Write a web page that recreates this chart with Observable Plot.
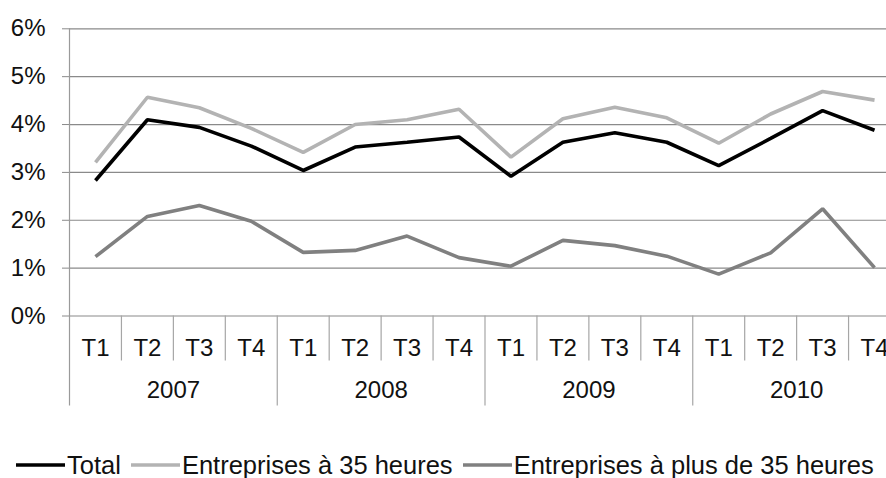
<!DOCTYPE html>
<html>
<head>
<meta charset="utf-8">
<script src="https://cdn.jsdelivr.net/npm/d3@7"></script>
<script src="https://cdn.jsdelivr.net/npm/@observablehq/plot@0.6"></script>
<style>
  html, body { margin: 0; padding: 0; background: #fff; overflow: hidden; width: 886px; height: 478px; }
  body { font-family: "Liberation Sans", Arial, sans-serif; }
  #chart svg { display: block; }
  #legend { position: absolute; top: 450px; left: 16px; display: flex; height: 30px; line-height: 30px; font-size: 25.5px; color: #111; white-space: nowrap; }
  .item { display: inline-flex; align-items: center; margin-right: 10px; }
  .item span { margin-left: 2px; }
</style>
</head>
<body>
<div id="chart"></div>
<div id="legend"></div>
<script>
// ---- data ----
const years = ["2007", "2008", "2009", "2010"];
const quarters = ["T1", "T2", "T3", "T4"];
const seriesNames = ["Total", "Entreprises à 35 heures", "Entreprises à plus de 35 heures"];
const total  = [2.83, 4.10, 3.94, 3.55, 3.04, 3.53, 3.63, 3.74, 2.92, 3.63, 3.83, 3.63, 3.14, 3.71, 4.29, 3.88];
const h35    = [3.21, 4.57, 4.35, 3.92, 3.42, 4.00, 4.10, 4.32, 3.32, 4.12, 4.36, 4.14, 3.61, 4.22, 4.69, 4.51];
const plus35 = [1.24, 2.08, 2.31, 1.98, 1.33, 1.37, 1.67, 1.22, 1.04, 1.58, 1.47, 1.25, 0.875, 1.32, 2.24, 1.01];
const yTicks = [0, 1, 2, 3, 4, 5, 6];
const seriesColors = ["#000000", "#b3b3b3", "#808080"];

// ---- derived tables ----
const periods = years.flatMap((y, yi) => quarters.map((q, qi) => ({i: yi * 4 + qi, year: y, q})));
const values = [total, h35, plus35];
const rows = seriesNames.flatMap((s, si) => values[si].map((v, i) => ({series: s, i, v})));
const yearLabels = years.map((y, yi) => ({year: y, i: yi * 4 + 1.5}));
const quarterSeps = periods.filter(p => p.i % 4 !== 3).map(p => p.i + 0.5);
const yearSeps = years.map((y, yi) => yi * 4 + 3.5);

const chart = Plot.plot({
  width: 886,
  height: 440,
  marginLeft: 69,
  marginRight: 0,
  marginTop: 28,
  marginBottom: 0,
  style: {fontFamily: "'Liberation Sans', Arial, sans-serif", background: "#fff", overflow: "visible"},
  x: {domain: [-0.5, periods.length - 0.5], range: [69, 900], axis: null},
  y: {domain: [0, 6], range: [315.5, 28.3], axis: null},
  color: {domain: seriesNames, range: seriesColors},
  marks: [
    Plot.ruleY(yTicks, {stroke: "#8a8a8a", strokeWidth: 1.2}),
    Plot.axisY({ticks: yTicks, tickFormat: d => `${d}%`, tickSize: 7, tickPadding: 17, fontSize: 24, stroke: "#8a8a8a", fill: "#111", label: null}),
    // y axis line, extended down to the bottom of the category rows
    Plot.ruleX([-0.5], {y1: 6, y2: 0, insetBottom: -90, stroke: "#9a9a9a", strokeWidth: 1.2}),
    Plot.ruleX(quarterSeps, {y1: 0, y2: 0, insetBottom: -45, stroke: "#a6a6a6", strokeWidth: 1.2}),
    Plot.ruleX(yearSeps, {y1: 0, y2: 0, insetBottom: -90, stroke: "#a6a6a6", strokeWidth: 1.2}),
    Plot.text(periods, {x: "i", y: 0, text: "q", dy: 32, fontSize: 24, fill: "#111"}),
    Plot.text(yearLabels, {x: "i", y: 0, text: "year", dy: 74, fontSize: 24, fill: "#111"}),
    Plot.line(rows, {x: "i", y: "v", z: "series", stroke: "series", strokeWidth: 3.6, strokeLinejoin: "miter", strokeLinecap: "butt"})
  ]
});
document.getElementById("chart").append(chart);

// ---- legend ----
const legend = document.getElementById("legend");
seriesNames.forEach((s, si) => {
  const item = document.createElement("div");
  item.className = "item";
  item.innerHTML = `<svg width="49" height="6"><line x1="0" x2="49" y1="3" y2="3" stroke="${seriesColors[si]}" stroke-width="3.6"/></svg><span>${s}</span>`;
  legend.append(item);
});
</script>
</body>
</html>
